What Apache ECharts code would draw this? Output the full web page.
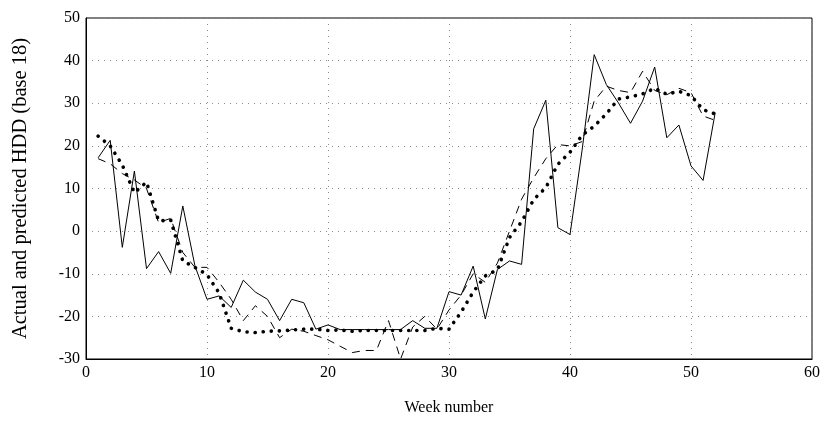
<!DOCTYPE html>
<html>
<head>
<meta charset="utf-8">
<script src="https://cdn.jsdelivr.net/npm/echarts@6/dist/echarts.min.js"></script>
<style>
  html, body { margin: 0; padding: 0; background: #fff; }
  #chart { width: 827px; height: 421px; }
</style>
</head>
<body>
<div id="chart"></div>
<script>
// Week numbers 1..52
const weeks = [1, 2, 3, 4, 5, 6, 7, 8, 9, 10, 11, 12, 13, 14, 15, 16, 17, 18, 19, 20,
  21, 22, 23, 24, 25, 26, 27, 28, 29, 30, 31, 32, 33, 34, 35, 36, 37, 38, 39, 40,
  41, 42, 43, 44, 45, 46, 47, 48, 49, 50, 51, 52];

// Actual weekly HDD (solid line)
const actualHDD = [17.2, 21.3, -3.8, 14.1, -8.8, -4.8, -9.9, 5.9, -8.1, -16,
  -15.2, -17.9, -11.5, -14.3, -16, -21, -16, -16.8, -23, -22,
  -23.1, -23.1, -23.1, -23.1, -23.1, -23.1, -21, -22.8, -22.8, -14.2,
  -15, -8.2, -20.6, -9, -7, -7.8, 24, 30.7, 0.8, -0.8,
  19, 41.4, 34.4, 30.1, 25.3, 30.5, 38.5, 21.9, 24.9, 15.3,
  11.9, 27.8];

// Predicted HDD, first model (dashed line)
const predictedA = [17, 15.8, 13.5, 12, 10, 2, 3, -5, -8.5, -8.5,
  -12, -16, -21, -17.5, -20, -25, -23, -23.5, -24.5, -25.5,
  -27, -28.5, -28, -28, -21, -30, -22.5, -20, -23, -18.5,
  -15, -10, -12, -7.5, 0, 7.5, 12.5, 17, 20.3, 20,
  21, 30.5, 34, 33, 32.5, 37.5, 33, 32, 33.5, 32.5,
  27, 26];

// Predicted HDD, second model (heavy dotted line)
const predictedB = [22.3, 20, 15.5, 9, 11.5, 2.4, 2.6, -7, -8.5, -10.2,
  -14.5, -22.8, -23.6, -23.8, -23.5, -23.4, -23.2, -23, -23, -23.3,
  -23.2, -23.5, -23.3, -23.3, -23.3, -23.3, -23.3, -23.3, -22.8, -23,
  -19, -14.3, -10.5, -9.1, -1.5, 2.2, 7.4, 10.2, 15.7, 18.5,
  22.5, 24.6, 27.5, 31, 31.5, 32.2, 33.5, 32.1, 32.8, 31.8,
  28.5, 27.5];

// Axis tick values
const xTicks = [0, 10, 20, 30, 40, 50, 60];
const yTicks = [-30, -20, -10, 0, 10, 20, 30, 40, 50];

const pairs = vals => weeks.map((w, i) => [w, vals[i]]);

const serif = '"Liberation Serif", "DejaVu Serif", serif';
const gridDots = { color: '#8a8a8a', width: 1, type: [1, 5] };

const chart = echarts.init(document.getElementById('chart'), null, { renderer: 'canvas' });
chart.setOption({
  animation: false,
  backgroundColor: '#fff',
  grid: {
    left: 86, right: 15, top: 18, bottom: 61,
    show: true, borderColor: '#000', borderWidth: 1, backgroundColor: 'transparent'
  },
  xAxis: {
    type: 'value',
    min: xTicks[0], max: xTicks[xTicks.length - 1], interval: 10,
    name: 'Week number', nameLocation: 'middle', nameGap: 41,
    nameTextStyle: { fontFamily: serif, fontSize: 16, color: '#000' },
    axisLine: { show: true, onZero: false, lineStyle: { color: '#000', width: 1 } },
    axisTick: { show: false },
    axisLabel: { fontFamily: serif, fontSize: 16, color: '#000', margin: 6 },
    splitLine: { show: true, lineStyle: gridDots }
  },
  yAxis: {
    type: 'value',
    min: yTicks[0], max: yTicks[yTicks.length - 1], interval: 10,
    name: 'Actual and predicted HDD (base 18)', nameLocation: 'middle', nameGap: 55,
    nameTextStyle: { fontFamily: serif, fontSize: 20.5, color: '#000' },
    axisLine: { show: true, onZero: false, lineStyle: { color: '#000', width: 1 } },
    axisTick: { show: false },
    axisLabel: { fontFamily: serif, fontSize: 16, color: '#000', margin: 6 },
    splitLine: { show: true, lineStyle: gridDots }
  },
  series: [
    {
      name: 'Actual', type: 'line', data: pairs(actualHDD),
      showSymbol: false, symbol: 'none',
      lineStyle: { color: '#000', width: 1 }
    },
    {
      name: 'Predicted A', type: 'line', data: pairs(predictedA),
      showSymbol: false, symbol: 'none',
      lineStyle: { color: '#000', width: 1, type: [8, 6] }
    },
    {
      name: 'Predicted B', type: 'line', data: pairs(predictedB),
      showSymbol: false, symbol: 'none',
      lineStyle: { color: '#000', width: 3.6, type: [0.1, 8], cap: 'round' }
    }
  ]
});
</script>
</body>
</html>
